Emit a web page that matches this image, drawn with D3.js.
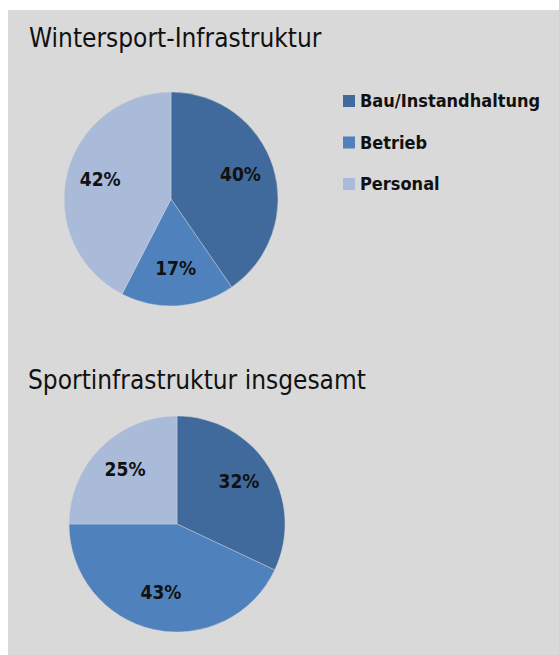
<!DOCTYPE html>
<html>
<head>
<meta charset="utf-8">
<script src="https://cdn.jsdelivr.net/npm/d3@7/dist/d3.min.js"></script>
<style>
  body { margin: 0; background: #fff; }
  svg text { font-family: "DejaVu Sans Condensed", "DejaVu Sans", sans-serif; font-stretch: condensed; }
</style>
</head>
<body>
<div id="chart"></div>
<script>
// categories + shares (percent)
const categories = ["Bau/Instandhaltung", "Betrieb", "Personal"];
const winterValues = [40, 17, 42];
const totalValues = [32, 43, 25];
const chartTitles = ["Wintersport-Infrastruktur", "Sportinfrastruktur insgesamt"];

const colors = ["#416a9c", "#4f81bd", "#aabad9"];

const W = 559, H = 655;

const svg = d3.select("#chart").append("svg")
  .attr("width", W)
  .attr("height", H);

// grey panel
svg.append("rect")
  .attr("x", 8)
  .attr("y", 10)
  .attr("width", W - 8)
  .attr("height", H - 10)
  .attr("fill", "#d9d9d9");

const color = d3.scaleOrdinal().domain(categories).range(colors);

const pie = d3.pie().sort(null).value(d => d.value);

function drawPie(values, title, cx, cy, r, titleX, titleY) {
  const data = categories.map((c, i) => ({ name: c, value: values[i] }));

  svg.append("text")
    .attr("x", titleX)
    .attr("y", titleY)
    .style("font-size", "26px")
    .attr("fill", "#111")
    .text(title);

  const g = svg.append("g").attr("transform", `translate(${cx},${cy})`);

  const arc = d3.arc().innerRadius(0).outerRadius(r);
  const labelArc = d3.arc().innerRadius(r * 0.68).outerRadius(r * 0.68);

  g.selectAll("path")
    .data(pie(data))
    .enter()
    .append("path")
    .attr("d", arc)
    .attr("fill", d => color(d.data.name))
    .attr("stroke", "#d9d9d9")
    .attr("stroke-width", 0.4);

  g.selectAll(".lbl")
    .data(pie(data))
    .enter()
    .append("text")
    .attr("class", "lbl")
    .attr("transform", d => `translate(${labelArc.centroid(d)})`)
    .attr("text-anchor", "middle")
    .attr("dy", "0.2em")
    .style("font-size", "19px")
    .style("font-weight", "bold")
    .attr("fill", "#111")
    .text(d => d.data.value + "%");
}

drawPie(winterValues, chartTitles[0], 171, 199, 107, 29, 47);
drawPie(totalValues, chartTitles[1], 177, 524, 108, 28, 389);

// legend (only next to the first pie)
const legend = svg.append("g").attr("transform", "translate(343,95)");

categories.forEach((c, i) => {
  const row = legend.append("g").attr("transform", `translate(0, ${i * 41.5})`);
  row.append("rect")
    .attr("width", 12)
    .attr("height", 12)
    .attr("fill", color(c));
  row.append("text")
    .attr("x", 17)
    .attr("y", 12)
    .style("font-size", "18px")
    .style("font-weight", "bold")
    .attr("fill", "#111")
    .text(c);
});
</script>
</body>
</html>
